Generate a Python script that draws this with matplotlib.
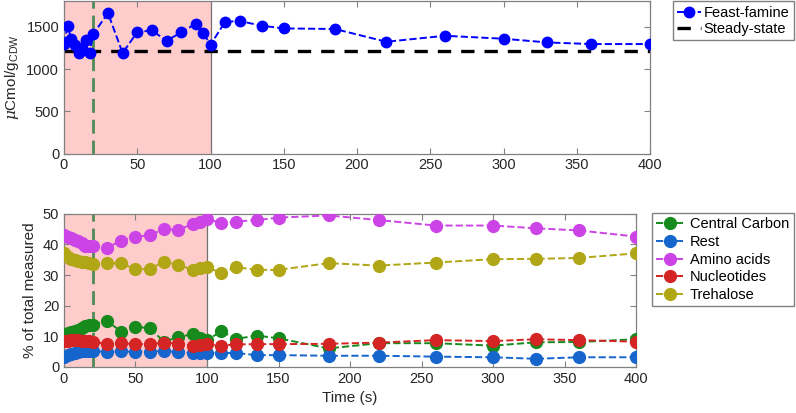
import matplotlib
matplotlib.use('Agg')
import matplotlib.pyplot as plt
from matplotlib.patches import Rectangle

plt.rcParams['font.family'] = ['Liberation Sans', 'DejaVu Sans']
plt.rcParams['mathtext.fontset'] = 'custom'
plt.rcParams['mathtext.rm'] = 'Liberation Sans'
plt.rcParams['mathtext.it'] = 'DejaVu Serif:italic'

# time points (s)
time = [0, 2.5, 5, 7.5, 10, 12.5, 15, 17.5, 20, 30, 40, 50, 60, 70, 80, 90, 95, 100,
        110, 120, 135, 150, 185, 220, 260, 300, 330, 360, 400]

# top panel: total measured (umol C / g CDW)
feast_famine = [1300, 1510, 1350, 1280, 1190, 1250, 1345, 1195, 1415, 1663, 1190, 1438,
                1457, 1335, 1434, 1537, 1426, 1288, 1560, 1568, 1513, 1481, 1474, 1323,
                1394, 1359, 1315, 1296, 1296]
steady_state = 1210

# bottom panel: % of total measured
central_carbon = [10.6, 11.0, 11.3, 11.6, 12.0, 12.6, 13.3, 13.6, 13.8, 15.0, 11.5, 13.1,
                  12.6, 8.2, 9.8, 10.6, 9.3, 8.6, 11.7, 9.1, 10.2, 9.3, 6.0, 7.7,
                  7.7, 6.9, 8.0, 8.1, 9.0]
rest = [3.2, 3.7, 4.1, 4.5, 4.8, 5.0, 5.1, 5.2, 5.2, 4.8, 5.0, 4.9,
        4.9, 5.2, 4.7, 4.5, 4.5, 4.5, 4.5, 4.5, 3.8, 3.8, 3.6, 3.6,
        3.3, 3.1, 2.6, 3.1, 3.1]
amino_acids = [43.1, 42.6, 42.0, 41.6, 41.0, 40.4, 39.4, 39.6, 39.5, 38.9, 41.3, 42.4,
               43.1, 45.0, 44.8, 46.7, 47.2, 48.4, 47.0, 47.5, 48.0, 48.8, 49.5, 48.0,
               46.2, 46.2, 45.3, 44.6, 42.6]
nucleotides = [8.5, 8.5, 8.6, 8.7, 8.6, 8.5, 8.4, 8.3, 8.2, 7.4, 7.7, 7.4,
               7.4, 7.9, 7.6, 6.9, 7.1, 7.3, 6.9, 7.3, 7.4, 7.4, 7.5, 7.9,
               8.7, 8.4, 9.0, 8.7, 8.2]
trehalose = [37.2, 36.0, 35.3, 34.9, 34.6, 34.4, 34.2, 33.8, 33.6, 33.9, 33.9, 31.9,
             32.0, 34.4, 33.3, 31.7, 32.2, 32.7, 30.6, 32.6, 31.7, 31.7, 33.9, 33.1,
             34.1, 35.2, 35.3, 35.6, 37.1]

fam_start, fam_end = 0, 100
feed_end = 20

bottom_series = [
    ('Central Carbon', central_carbon, '#168A1C'),
    ('Rest', rest, '#1565CC'),
    ('Amino acids', amino_acids, '#CC44E6'),
    ('Nucleotides', nucleotides, '#D42424'),
    ('Trehalose', trehalose, '#B0A616'),
]

fig = plt.figure(figsize=(7.96, 4.13), dpi=100)
ax1 = fig.add_axes([0.0804, 0.628, 0.7362, 0.3685])
ax2 = fig.add_axes([0.0804, 0.112, 0.7186, 0.370])

def style_axes(ax, ylim, yticks):
    ax.set_xlim(0, 400)
    ax.set_ylim(*ylim)
    ax.set_xticks(range(0, 401, 50))
    ax.set_yticks(yticks)
    ax.tick_params(direction='in', top=True, right=True, labelsize=10.5,
                   colors='#808080', labelcolor='#262626', length=4)
    for s in ax.spines.values():
        s.set_color('#808080')
        s.set_linewidth(0.9)
    # feast window and feed stop
    ax.add_patch(Rectangle((fam_start, ylim[0]), fam_end - fam_start, ylim[1] - ylim[0],
                           facecolor='#FFCCCC', edgecolor='none', zorder=0))
    ax.axvline(fam_end, color='#707070', lw=0.9, zorder=1)
    ax.axvline(feed_end, color='#4E8C57', lw=2.0, ls=(0, (5, 2.5)), zorder=1.5)

style_axes(ax1, (0, 1800), [0, 500, 1000, 1500])
ax1.plot(time, feast_famine, '--o', color='#0000FF', lw=1.4, ms=7.5, label='Feast-famine', zorder=3)
ax1.plot([0, 400], [steady_state, steady_state], color='black', lw=2.4,
         ls=(0, (4, 3)), label='Steady-state', zorder=2.5)
ax1.set_ylabel(r'$\mu$Cmol/g$_{\mathrm{CDW}}$', fontsize=11, color='#262626')
ax1.legend(loc='upper right', bbox_to_anchor=(0.997, 0.997), bbox_transform=fig.transFigure,
           fancybox=False, edgecolor='#808080', fontsize=10.5, framealpha=1,
           borderpad=0.3, labelspacing=0.15, handlelength=1.6, handletextpad=0.2,
           borderaxespad=0)

style_axes(ax2, (0, 50), [0, 10, 20, 30, 40, 50])
for name, vals, col in bottom_series:
    ax2.plot(time, vals, '--o', color=col, lw=1.4, ms=8.5, label=name, zorder=3)
ax2.set_ylabel('% of total measured', fontsize=11, color='#262626')
ax2.set_xlabel('Time (s)', fontsize=11, color='#262626')
ax2.legend(loc='upper right', bbox_to_anchor=(0.997, 0.484), bbox_transform=fig.transFigure,
           fancybox=False, edgecolor='#808080', fontsize=10.5, framealpha=1,
           borderpad=0.3, labelspacing=0.25, handlelength=1.8, handletextpad=0.5,
           borderaxespad=0)

fig.savefig('out.png', dpi=100)
